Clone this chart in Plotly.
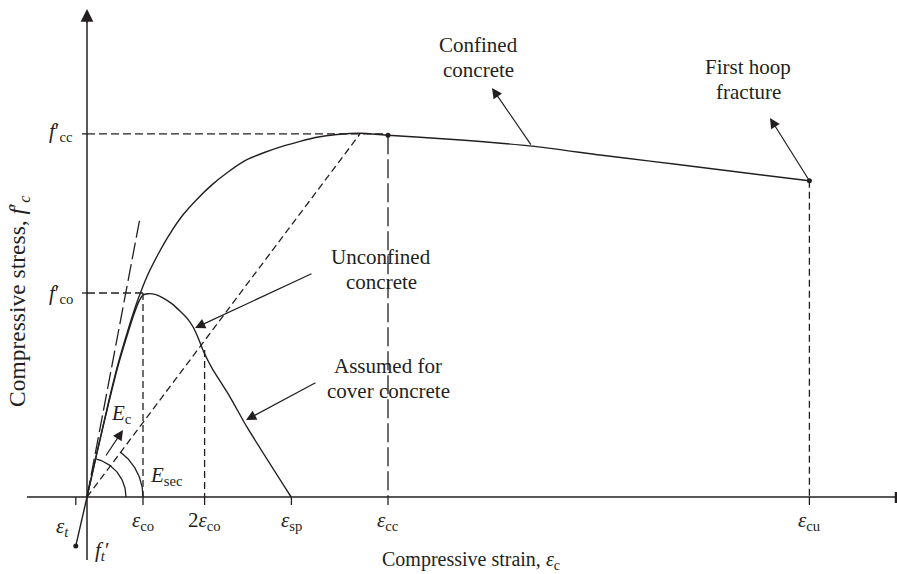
import numpy as np
import plotly.graph_objects as go

# ---------------- data (strain in mm/mm, stress in MPa, schematic) ----------------
conf_strain = [0.0, 0.00036, 0.00079, 0.00111, 0.00143, 0.00179, 0.00214, 0.00254,
               0.00296, 0.00343, 0.00393, 0.00446, 0.00504, 0.00571, 0.00636,
               0.00700, 0.00761, 0.00821, 0.00893, 0.00975, 0.01075,
               0.01296, 0.01589, 0.01832, 0.02011, 0.02189, 0.02579]
conf_stress = [0.0, 6.6, 14.3, 19.6, 24.1, 28.7, 32.4, 35.7,
               38.7, 41.5, 43.8, 45.9, 47.8, 49.6, 50.7,
               51.6, 52.3, 52.9, 53.3, 53.5, 53.2,
               52.6, 51.6, 50.3, 49.4, 48.5, 46.5]

unconf_strain = [0.0, 0.00036, 0.00079, 0.00111, 0.00143, 0.00168, 0.00186, 0.00200,
                 0.00218, 0.00243, 0.00271, 0.00304, 0.00332, 0.00357, 0.00379,
                 0.00396, 0.00414]
unconf_stress = [0.0, 6.6, 14.1, 19.3, 23.7, 26.9, 28.8, 29.7,
                 29.9, 29.8, 29.3, 28.4, 27.35, 26.3, 25.0,
                 23.5, 21.6]

cover_strain = [0.00414, 0.00429, 0.00450, 0.00511, 0.00571, 0.00729]
cover_stress = [21.6, 20.3, 18.7, 14.7, 10.3, 0.0]

tension_strain = [-0.0004, 0.0]
tension_stress = [-7.2, 0.0]

tick_names = ["eps_t", "eps_co", "2eps_co", "eps_sp", "eps_cc", "eps_cu"]
tick_strain = [-0.0004, 0.0020, 0.0042, 0.0073, 0.01075, 0.0258]
tick_labels = ["<i>ε</i><sub><i>t</i></sub>", "<i>ε</i><sub>co</sub>", "2<i>ε</i><sub>co</sub>",
               "<i>ε</i><sub>sp</sub>", "<i>ε</i><sub>cc</sub>", "<i>ε</i><sub>cu</sub>"]

fcc, fco, fcu, ft = 53.4, 30.0, 46.5, -7.2
eps_co, eps_2co, eps_cc, eps_cu = 0.0020, 0.0042, 0.01075, 0.0258
stress_2co = 21.6
Ec_end = (0.0019, 41.2)        # tangent modulus line
Esec_end = (0.00975, 53.4)     # secant modulus line

# ---------------- layout geometry ----------------
W, H = 897, 574
OX, OY = 87, 497                # origin in pixels
SX, SY = 28000.0, 6.8           # px per unit strain, px per MPa
xr = [(0 - OX) / SX, (W - OX) / SX]
yr = [(OY - H) / SY, (OY - 0) / SY]


def d(px, py):
    """pixel -> data"""
    return (px - OX) / SX, (OY - py) / SY


INK = "#231f20"
FONT = "Liberation Serif"
FS = 21

fig = go.Figure()


def line(x, y, dash="solid", width=1.3, shape="linear", smoothing=0.8):
    kw = dict(color=INK, width=width, dash=dash)
    if shape == "spline":
        kw.update(shape="spline", smoothing=smoothing)
    fig.add_trace(go.Scatter(x=x, y=y, mode="lines", line=kw, hoverinfo="skip", showlegend=False))


# axes
xa0, _ = d(27, 0)
xa1, _ = d(896, 0)
_, ya0 = d(0, 560)
_, ya1 = d(0, 20)
line([xa0, xa1], [0, 0], width=1.5)
line([0, 0], [ya0, ya1], width=1.5)
# right-end bar of x axis
_, b0 = d(0, 492)
_, b1 = d(0, 503)
line([xa1, xa1], [b0, b1], width=2.5)

# ticks on x axis
_, tk = d(0, 505)
for xs in tick_strain:
    line([xs, xs], [0, tk], width=1.3)
# ticks on y axis
tx, _ = d(82, 0)
for ys in [fcc, fco]:
    line([tx, 0], [ys, ys], width=1.3)

# dashed guide lines
line([0, eps_cc], [fcc, fcc], dash="8px,4px", width=1.3)
line([0, eps_co], [fco, fco], dash="8px,4px", width=1.3)
line([eps_co, eps_co], [fco, 0], dash="7px,4px", width=1.3)
line([eps_2co, eps_2co], [stress_2co, 0], dash="7px,4px", width=1.3)
line([eps_cc, eps_cc], [conf_stress[20], 0], dash="19px,5px", width=1.3)
line([eps_cu, eps_cu], [fcu, 0], dash="7px,4px", width=1.3)
line([0, Esec_end[0]], [0, Esec_end[1]], dash="7px,4px", width=1.3)
line([0, Ec_end[0]], [0, Ec_end[1]], dash="17px,5px", width=1.3)

# curves
line(conf_strain, conf_stress, shape="spline", smoothing=0.6, width=1.4)
line(unconf_strain, unconf_stress, shape="spline", smoothing=0.6, width=1.4)
line(cover_strain, cover_stress, shape="spline", smoothing=0.5, width=1.4)
line(tension_strain, tension_stress, width=1.4)

# angle arcs (circular in pixel space)
def arc(r_px, ang_deg):
    t = np.radians(np.linspace(0, ang_deg, 40))
    line(list(r_px * np.cos(t) / SX), list(r_px * np.sin(t) / SY), width=1.3)


ang_Ec = np.degrees(np.arctan2(Ec_end[1] * SY, Ec_end[0] * SX))
ang_sec = np.degrees(np.arctan2(Esec_end[1] * SY, Esec_end[0] * SX))
arc(39, ang_Ec - 3)
arc(56, ang_sec)

# dots
fig.add_trace(go.Scatter(x=[eps_cc, eps_cu, tension_strain[0]],
                         y=[conf_stress[20], fcu, ft], mode="markers",
                         marker=dict(color=INK, size=5), hoverinfo="skip", showlegend=False))

ann = []


def text(px, py, s, xanchor="center", yanchor="middle", angle=0, size=FS):
    x, y = d(px, py)
    ann.append(dict(x=x, y=y, xref="x", yref="y", text=s, showarrow=False,
                    xanchor=xanchor, yanchor=yanchor, textangle=angle,
                    font=dict(family=FONT, size=size, color=INK)))


def arrow(tail, tip_px, width=1.2, size=1.7):
    x, y = d(*tip_px)
    ann.append(dict(x=x, y=y, ax=tail[0], ay=tail[1], xref="x", yref="y",
                    axref="x", ayref="y", text="", showarrow=True,
                    arrowhead=2, arrowsize=size, arrowwidth=width,
                    arrowcolor=INK, standoff=0, startstandoff=0))


# y axis arrowhead
arrow(d(87, 24), (87, 9), width=1.5, size=1.7)

# tick labels
for xs, lab, nm in zip(tick_strain, tick_labels, tick_names):
    px = OX + xs * SX
    if nm == "eps_t":
        text(px - 13, 527, lab)
    else:
        text(px, 521, lab)

text(75, 132, "<i>f</i>′<sub>cc</sub>", xanchor="right")
text(75, 294, "<i>f</i>′<sub>co</sub>", xanchor="right")
text(93, 551, "<i>f<sub>t</sub></i>′", xanchor="left")
text(121, 414, "<i>E</i><sub>c</sub>")
text(166, 476, "<i>E</i><sub>sec</sub>")

# annotations (one line each, tight leading like the reference)
labels = [
    (478, [45, 70], ["Confined", "concrete"]),
    (748, [67, 92], ["First hoop", "fracture"]),
    (381, [257, 282], ["Unconfined", "concrete"]),
    (388, [366, 391], ["Assumed for", "cover concrete"]),
]
for cx, ys, lines in labels:
    for yy, s in zip(ys, lines):
        text(cx, yy, s)

arrow((conf_strain[22], conf_stress[22]), (492, 88))
arrow((eps_cu, fcu), (770, 118))
arrow(d(313, 273), (195, 328))
arrow(d(317, 382), (246, 420))
arrow(d(105, 457), (123, 430))

# axis titles
text(471, 560, "Compressive strain, <i>ε</i><sub>c</sub>", size=20)
text(19, 301, "Compressive stress, <i>f</i>′<sub><i>c</i></sub>", angle=-90, size=23.5)

fig.update_layout(
    width=W, height=H, margin=dict(l=0, r=0, t=0, b=0),
    paper_bgcolor="white", plot_bgcolor="white",
    xaxis=dict(range=xr, visible=False, fixedrange=True),
    yaxis=dict(range=yr, visible=False, fixedrange=True),
    annotations=ann, showlegend=False,
)

fig.write_html("out.html")
